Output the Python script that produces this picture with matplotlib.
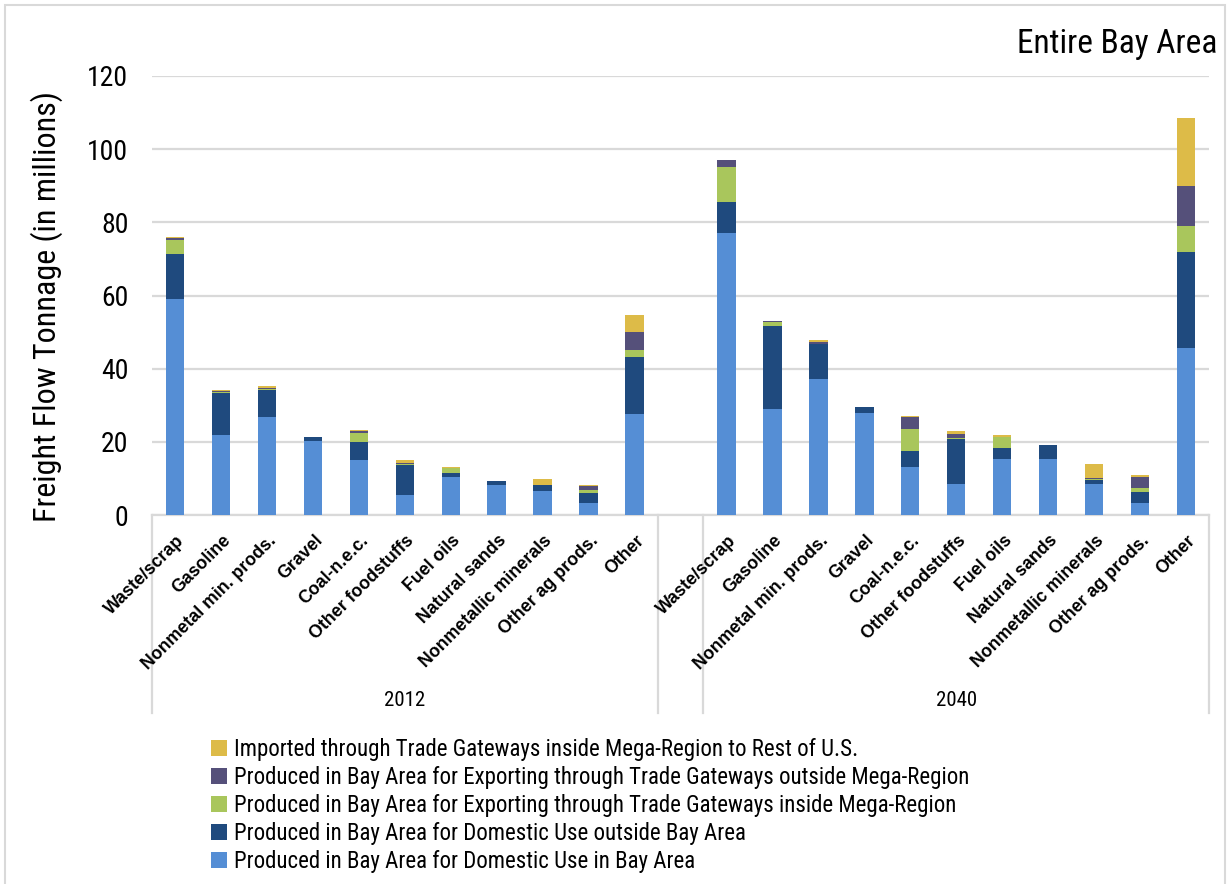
import numpy as np
import matplotlib
matplotlib.use("Agg")
import matplotlib.pyplot as plt
from matplotlib import font_manager
from matplotlib.font_manager import FontProperties
from matplotlib.patches import Rectangle, Patch
from matplotlib.transforms import blended_transform_factory, offset_copy

# ---------------------------------------------------------------- data
categories = ["Waste/scrap", "Gasoline", "Nonmetal min. prods.", "Gravel",
              "Coal-n.e.c.", "Other foodstuffs", "Fuel oils", "Natural sands",
              "Nonmetallic minerals", "Other ag prods.", "Other"]
years = ["2012", "2040"]

series_labels = [
    "Produced in Bay Area for Domestic Use in Bay Area",
    "Produced in Bay Area for Domestic Use outside Bay Area",
    "Produced in Bay Area for Exporting through Trade Gateways inside Mega-Region",
    "Produced in Bay Area for Exporting through Trade Gateways outside Mega-Region",
    "Imported through Trade Gateways inside Mega-Region to Rest of U.S.",
]

# 2012 values (millions of tons), one list per series
dom_in_2012   = [59.1, 21.8, 26.8, 20.2, 15.0, 5.4, 10.4, 8.2, 6.6, 3.4, 27.5]
dom_out_2012  = [12.2, 11.6, 7.5, 1.1, 5.0, 8.2, 1.2, 1.0, 1.5, 2.5, 15.6]
exp_in_2012   = [3.9, 0.3, 0.1, 0.0, 2.4, 0.4, 1.2, 0.0, 0.1, 0.9, 2.1]
exp_out_2012  = [0.6, 0.1, 0.2, 0.0, 0.6, 0.3, 0.0, 0.0, 0.1, 1.1, 4.7]
imported_2012 = [0.1, 0.3, 0.7, 0.0, 0.1, 0.8, 0.2, 0.1, 1.5, 0.3, 4.8]

# 2040 values (millions of tons)
dom_in_2040   = [77.0, 28.9, 37.3, 27.8, 13.1, 8.4, 15.3, 15.3, 8.5, 3.2, 45.7]
dom_out_2040  = [8.6, 22.7, 9.4, 1.6, 4.4, 12.3, 3.1, 3.7, 1.2, 3.2, 26.1]
exp_in_2040   = [9.4, 1.2, 0.1, 0.0, 5.9, 0.4, 3.0, 0.0, 0.2, 1.1, 7.3]
exp_out_2040  = [2.0, 0.1, 0.5, 0.0, 3.3, 1.0, 0.0, 0.0, 0.1, 2.9, 10.9]
imported_2040 = [0.0, 0.2, 0.6, 0.1, 0.3, 0.9, 0.5, 0.0, 3.9, 0.5, 18.4]

colors = ["#558ED5", "#1F4A7E", "#A9C65C", "#55507A", "#DDBB48"]

# ---------------------------------------------------------------- fonts
def _stretch_val(s):
    table = {"ultra-condensed": 100, "extra-condensed": 200, "condensed": 300,
             "semi-condensed": 400, "normal": 500, "semi-expanded": 600,
             "expanded": 700, "extra-expanded": 800, "ultra-expanded": 900}
    if isinstance(s, str):
        return table.get(s, 500)
    return int(s)

def _weight_val(w):
    if isinstance(w, str):
        return {"normal": 400, "regular": 400, "book": 400, "medium": 500,
                "bold": 700}.get(w, 400)
    return int(w)

def narrow_font(bold=False):
    """Return a FontProperties for a narrow sans face, best one available."""
    entries = font_manager.fontManager.ttflist
    want_w = 700 if bold else 400
    preferred = ["Liberation Sans Narrow", "Arial Narrow", "Noto Sans",
                 "Noto Sans Condensed", "Noto Sans SemiCondensed",
                 "Open Sans", "Open Sans Condensed", "Roboto Condensed",
                 "Roboto", "DejaVu Sans", "DejaVu Sans Condensed"]
    best = None
    for rank, fam in enumerate(preferred):
        for e in entries:
            if e.name != fam or e.style != "normal":
                continue
            st = _stretch_val(e.stretch)
            fname = e.fname.lower()
            if "narrow" in fam.lower() or "condensed" in fam.lower():
                st = min(st, 300)
            if "condensed" in fname or "narrow" in fname:
                st = min(st, 300 if "semi" not in fname else 400)
            if "extracondensed" in fname or "extra-condensed" in fname:
                st = 200
            if st >= 500:
                continue
            if abs(_weight_val(e.weight) - want_w) > 50:
                continue
            score = (abs(st - 300), rank)
            if best is None or score < best[0]:
                best = (score, e.fname)
    if best is not None:
        return FontProperties(fname=best[1])
    return FontProperties(family="Liberation Sans",
                          weight="bold" if bold else "normal")

NARROW = narrow_font()

def nfp(size):
    fp = NARROW.copy()
    fp.set_size(size)
    return fp

bold_family = "Liberation Sans"

# ---------------------------------------------------------------- figure
W, H = 1228, 884
fig = plt.figure(figsize=(W / 100, H / 100), dpi=100)
fig.patch.set_facecolor("white")

left_px, right_px, top_px, bottom_px = 152, 1209, 76, 515
ax = fig.add_axes([left_px / W, 1 - bottom_px / H,
                   (right_px - left_px) / W, (bottom_px - top_px) / H])

n = len(categories)
pos_2012 = np.arange(n)
pos_2040 = np.arange(n) + n + 1
bar_w = 0.4

stacks = {
    "2012": (pos_2012, [dom_in_2012, dom_out_2012, exp_in_2012, exp_out_2012, imported_2012]),
    "2040": (pos_2040, [dom_in_2040, dom_out_2040, exp_in_2040, exp_out_2040, imported_2040]),
}
for yr, (pos, layers) in stacks.items():
    base = np.zeros(n)
    for vals, col in zip(layers, colors):
        vals = np.asarray(vals, dtype=float)
        ax.bar(pos, vals, bar_w, bottom=base, color=col, linewidth=0, zorder=3)
        base += vals

ax.set_xlim(-0.5, 2 * n + 0.5)
ax.set_ylim(0, 120)
ax.set_yticks(np.arange(0, 121, 20))
ax.yaxis.grid(True, color="#D9D9D9", linewidth=1.6, zorder=0)
ax.set_axisbelow(True)
for s in ["left", "right", "top"]:
    ax.spines[s].set_visible(False)
ax.spines["bottom"].set_color("#D9D9D9")
ax.spines["bottom"].set_linewidth(1.6)
ax.tick_params(axis="y", length=0, pad=17)
for lab in ax.get_yticklabels():
    lab.set_fontproperties(nfp(20))
ax.set_xticks([])

# y-axis title
fig.text(47 / W, 1 - 307 / H, "Freight Flow Tonnage (in millions)",
         rotation=90, ha="center", va="center", fontproperties=nfp(23))

# category labels, rotated 45 degrees
trans = blended_transform_factory(ax.transData, ax.transAxes)
lab_trans = offset_copy(trans, fig=fig, x=1, y=-17, units="dots")
for pos in (pos_2012, pos_2040):
    for x, name in zip(pos, categories):
        ax.text(x, 0, name, transform=lab_trans, rotation=45,
                rotation_mode="anchor", ha="right", va="top",
                fontsize=12.8, fontweight="bold", fontfamily=bold_family)

# group separators and year labels
depth = -(713 - bottom_px) / (bottom_px - top_px)
for xb in [-0.5, n - 0.5, n + 0.5, 2 * n + 0.5]:
    ax.plot([xb, xb], [0, depth], transform=trans, color="#D9D9D9",
            linewidth=1.6, clip_on=False)
year_y = -(700 - bottom_px) / (bottom_px - top_px)
for pos, yr in zip((pos_2012, pos_2040), years):
    ax.text(pos.mean(), year_y, yr, transform=trans, ha="center", va="center",
            fontproperties=nfp(15))

# title
fig.text(1217 / W, 1 - 53 / H, "Entire Bay Area", ha="right", va="baseline",
         fontproperties=nfp(24))

# legend, topmost series first
handles = [Patch(facecolor=c, edgecolor="none") for c in colors][::-1]
leg = fig.legend(handles, series_labels[::-1], loc="upper left",
                 bbox_to_anchor=(211 / W, 1 - 738 / H), frameon=False,
                 prop=nfp(16.5),
                 handlelength=0.7, handleheight=0.7, handletextpad=0.3,
                 labelspacing=0.22, borderpad=0, borderaxespad=0)

# outer frame
fig.patches.append(Rectangle((5 / W, -0.01), (1225 - 5) / W, 1 - 5 / H + 0.01,
                             transform=fig.transFigure, fill=False,
                             edgecolor="#D9D9D9", linewidth=1.5))

fig.savefig("out.png", dpi=100, facecolor="white")
